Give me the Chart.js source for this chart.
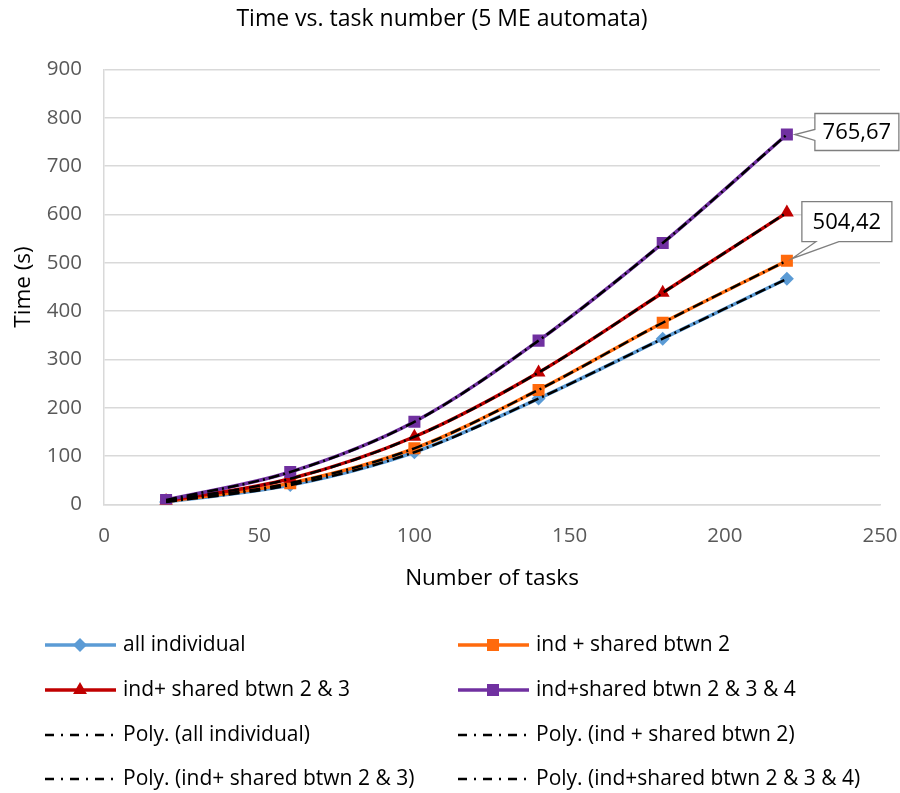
<!DOCTYPE html>
<html>
<head>
<meta charset="utf-8">
<script src="https://cdn.jsdelivr.net/npm/chart.js@4"></script>
<style>
  html, body { margin: 0; padding: 0; background: #fff; }
  #wrap { width: 900px; height: 793px; }
</style>
</head>
<body>
<div id="wrap"><canvas id="chart" width="900" height="793"></canvas></div>
<script>
// ====================== DATA ======================
const tasks = [20, 60, 100, 140, 180, 220];
const allIndividual = [5, 40, 108, 219, 343, 467];
const sharedBtwn2 = [6, 44, 116, 237, 376, 504.42];
const sharedBtwn23 = [7, 53, 140, 273, 438, 604];
const sharedBtwn234 = [9, 67, 171, 339, 541, 765.67];

const seriesNames = ["all individual", "ind + shared btwn 2", "ind+ shared btwn 2 & 3", "ind+shared btwn 2 & 3 & 4"];
const seriesColors = ["#5B9BD5", "#FF6A0D", "#C00000", "#7030A0"];
const seriesMarkers = ["rectRot", "rect", "triangle", "rect"];
const seriesValues = [allIndividual, sharedBtwn2, sharedBtwn23, sharedBtwn234];

const FONT = "'Open Sans', sans-serif";
const TREND_DASH = [11, 4, 2, 4];

function pts(vals) {
  return vals.map((v, i) => ({ x: tasks[i], y: v }));
}

// --- data series ---
let datasets = seriesValues.map((vals, i) => ({
  label: seriesNames[i],
  data: pts(vals),
  borderColor: seriesColors[i],
  backgroundColor: seriesColors[i],
  borderWidth: 3.5,
  pointStyle: seriesMarkers[i],
  pointRadius: seriesMarkers[i] === "rect" ? 8.5 : (seriesMarkers[i] === "triangle" ? 8 : 7),
  pointBorderWidth: 0,
  tension: 0.4,
  cubicInterpolationMode: "monotone",
  order: 4 - i
}));

// --- polynomial trend lines (black dash-dot) ---
seriesValues.forEach((vals, i) => {
  datasets.push({
    label: "Poly. (" + seriesNames[i] + ")",
    data: pts(vals),
    borderColor: "#000",
    backgroundColor: "#000",
    borderWidth: 2.5,
    borderDash: TREND_DASH,
    pointRadius: 0,
    tension: 0.4,
    cubicInterpolationMode: "monotone",
    order: 0,
    trend: true
  });
});

// ====================== CALLOUT LABELS ======================
const calloutPlugin = {
  id: "callouts",
  afterDatasetsDraw(chart) {
    const ctx = chart.ctx;
    // [dataset index, box dx, box dy, box w, box h]
    const items = [
      [3, 28, -21, 84, 37],
      [1, 15, -59, 90, 40]
    ];
    items.forEach(([di, dx, dy, w, h]) => {
      const meta = chart.getDatasetMeta(di);
      const el = meta.data[meta.data.length - 1];
      const vals = seriesValues[di];
      const txt = vals[vals.length - 1].toFixed(2).replace(".", ",");
      const bx = el.x + dx, by = el.y + dy;
      ctx.save();
      ctx.fillStyle = "#fff";
      ctx.strokeStyle = "#7f7f7f";
      ctx.lineWidth = 1.3;
      ctx.beginPath();
      if (di === 3) {
        // wedge on the left side
        ctx.moveTo(bx, by);
        ctx.lineTo(bx + w, by);
        ctx.lineTo(bx + w, by + h);
        ctx.lineTo(bx, by + h);
        ctx.lineTo(bx, by + 27);
        ctx.lineTo(el.x + 8, el.y);
        ctx.lineTo(bx, by + 16);
        ctx.closePath();
      } else {
        // wedge on the bottom side
        ctx.moveTo(bx, by);
        ctx.lineTo(bx + w, by);
        ctx.lineTo(bx + w, by + h);
        ctx.lineTo(bx + 37, by + h);
        ctx.lineTo(el.x + 5, el.y - 2);
        ctx.lineTo(bx + 14, by + h);
        ctx.lineTo(bx, by + h);
        ctx.closePath();
      }
      ctx.fill();
      ctx.stroke();
      ctx.fillStyle = "#000";
      ctx.font = "22px " + FONT;
      ctx.textAlign = "center";
      ctx.textBaseline = "middle";
      ctx.fillText(txt, bx + w / 2, by + h / 2 + 1);
      ctx.restore();
    });
  }
};

// ====================== LEGEND (2 columns) ======================
const legendPlugin = {
  id: "twoColLegend",
  afterDraw(chart) {
    const ctx = chart.ctx;
    const colX = [45, 458];
    const rowY = [645, 690, 735, 779];
    chart.data.datasets.forEach((ds, i) => {
      const x = colX[i % 2];
      const y = rowY[Math.floor(i / 2)];
      ctx.save();
      ctx.strokeStyle = ds.borderColor;
      ctx.lineWidth = ds.trend ? 2.5 : 3.5;
      ctx.setLineDash(ds.trend ? [9, 7, 2, 7] : []);
      ctx.beginPath();
      ctx.moveTo(x, y);
      ctx.lineTo(x + 71, y);
      ctx.stroke();
      ctx.setLineDash([]);
      if (!ds.trend) {
        ctx.fillStyle = ds.backgroundColor;
        Chart.helpers.drawPoint(ctx, { pointStyle: ds.pointStyle, radius: ds.pointRadius, borderWidth: 0 }, x + 35, y);
      }
      ctx.fillStyle = "#000";
      ctx.font = "21px " + FONT;
      ctx.textAlign = "left";
      ctx.textBaseline = "middle";
      ctx.fillText(ds.label, x + 78, y);
      ctx.restore();
    });
  }
};

// ====================== CHART ======================
const chart = new Chart(document.getElementById("chart"), {
  type: "line",
  data: { datasets: datasets },
  options: {
    responsive: false,
    animation: false,
    layout: { padding: { left: 4, right: 20, top: 0, bottom: 197 } },
    plugins: {
      legend: { display: false },
      tooltip: { enabled: false },
      title: {
        display: true,
        text: "Time vs. task number (5 ME automata)",
        color: "#000",
        font: { family: FONT, size: 23, weight: "normal" },
        padding: { top: 6, bottom: 36 }
      }
    },
    scales: {
      x: {
        type: "linear",
        min: 0,
        max: 250,
        afterFit(scale) { scale.paddingRight = 0; scale.paddingLeft = 0; },
        ticks: { stepSize: 50, color: "#595959", font: { family: FONT, size: 20.5 }, padding: 19 },
        grid: { drawOnChartArea: false, drawTicks: false },
        border: { color: "#d9d9d9", width: 1.5 },
        title: { display: true, text: "Number of tasks", color: "#000", font: { family: FONT, size: 22.5 }, padding: { top: -2, bottom: 4 } }
      },
      y: {
        min: 0,
        max: 900,
        afterFit(scale) { scale.width = 100; },
        ticks: { stepSize: 100, color: "#595959", font: { family: FONT, size: 20.5 }, padding: 22 },
        grid: { color: "#d9d9d9", lineWidth: 1.5, drawTicks: false },
        border: { color: "#d9d9d9", width: 1.5 },
        title: { display: true, text: "Time (s)", color: "#000", font: { family: FONT, size: 22.5 }, padding: { top: 6, bottom: 4 } }
      }
    }
  },
  plugins: [calloutPlugin, legendPlugin]
});
</script>
</body>
</html>
